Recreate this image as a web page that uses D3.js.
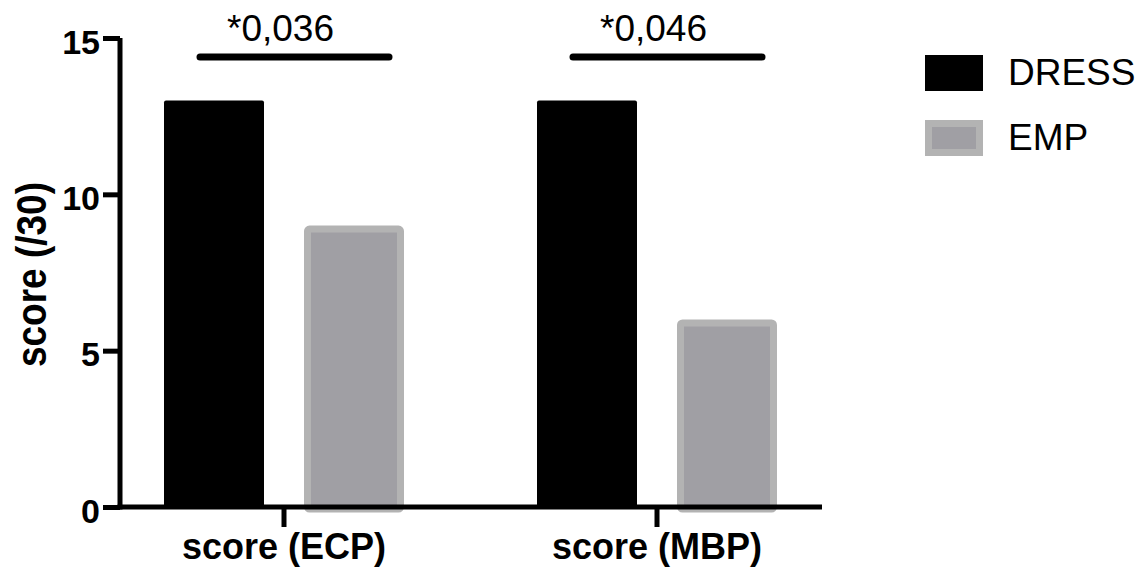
<!DOCTYPE html>
<html>
<head>
<meta charset="utf-8">
<script src="https://cdn.jsdelivr.net/npm/d3@7"></script>
<style>
  html, body { margin: 0; padding: 0; background: #fff; }
  svg { display: block; }
  text { font-family: "Liberation Sans", Arial, Helvetica, sans-serif; }
</style>
</head>
<body>
<script>
// Mean scores (/30) per test, for each patient group
const categories = ["score (ECP)", "score (MBP)"];
const seriesNames = ["DRESS", "EMP"];
const dressValues = [13, 13];
const empValues = [9, 6];
const pValues = ["*0,036", "*0,046"];
const yTicks = [0, 5, 10, 15];

const W = 1148, H = 569;
const svg = d3.select("body").append("svg").attr("width", W).attr("height", H);

const y = d3.scaleLinear().domain([0, 15]).range([507, 38]);
const x0 = d3.scaleBand().domain(categories).range([97.5, 843.5]).padding(0);
const x1 = d3.scaleBand().domain(seriesNames)
  .range([x0.bandwidth() / 2 - 120, x0.bandwidth() / 2 + 120])
  .paddingInner(2 / 7).paddingOuter(0);

const rows = categories.map((c, i) => ({ cat: c, DRESS: dressValues[i], EMP: empValues[i], p: pValues[i] }));

// Bars
const g = svg.append("g");
rows.forEach(r => {
  const cx = x0(r.cat);
  // DRESS: solid black
  g.append("rect")
    .attr("x", cx + x1("DRESS"))
    .attr("y", y(r.DRESS))
    .attr("width", x1.bandwidth())
    .attr("height", y(0) - y(r.DRESS) + 2)
    .attr("rx", 2)
    .attr("fill", "#000");
  // EMP: grey with a lighter border
  const bw = 7;
  g.append("rect")
    .attr("x", cx + x1("EMP") + bw / 2)
    .attr("y", y(r.EMP) + bw / 2)
    .attr("width", x1.bandwidth() - bw)
    .attr("height", y(0) - y(r.EMP) - bw / 2 + 2)
    .attr("rx", 2)
    .attr("fill", "#a09fa4")
    .attr("stroke", "#b3b3b3")
    .attr("stroke-width", bw);
});

// Y axis
const yAxis = d3.axisLeft(y).tickValues(yTicks).tickSize(17).tickPadding(3).tickFormat(d3.format("d"));
const ya = svg.append("g").attr("transform", "translate(120,0)").call(yAxis);
ya.select(".domain").attr("d", `M0,${y(15)}V${y(0) + 2.5}`).attr("stroke", "#000").attr("stroke-width", 5);
ya.selectAll(".tick line").attr("stroke", "#000").attr("stroke-width", 5);
ya.selectAll(".tick text")
  .attr("font-size", 34).attr("font-weight", "bold").attr("fill", "#000")
  .attr("dy", null).attr("y", 15).attr("x", -20);

// X axis
const xAxis = d3.axisBottom(x0).tickSize(20).tickPadding(0).tickFormat(() => "");
const xa = svg.append("g").attr("transform", `translate(0,${y(0)})`).call(xAxis);
xa.select(".domain").attr("d", "M117.5,0H822").attr("stroke", "#000").attr("stroke-width", 5);
xa.selectAll(".tick line").attr("stroke", "#000").attr("stroke-width", 5).attr("y1", 0);
xa.selectAll(".tick")
  .append("text")
  .attr("y", 52)
  .attr("text-anchor", "middle")
  .attr("font-size", 36)
  .attr("font-weight", "bold")
  .attr("fill", "#000")
  .text(d => d);

// Y axis title
svg.append("text")
  .attr("transform", `translate(46,${(y(0) + y(15)) / 2 + 2}) rotate(-90) scale(1,1.15)`)
  .attr("text-anchor", "middle")
  .attr("font-size", 37)
  .attr("font-weight", "bold")
  .attr("fill", "#000")
  .text("score (/30)");

// Significance brackets
rows.forEach(r => {
  const cx = x0(r.cat);
  const xs = cx + x1("DRESS") + 36;
  const xe = cx + x1("EMP") + x1.bandwidth() - 15;
  svg.append("line")
    .attr("x1", xs).attr("x2", xe)
    .attr("y1", 57).attr("y2", 57)
    .attr("stroke", "#000").attr("stroke-width", 7).attr("stroke-linecap", "round");
  svg.append("text")
    .attr("x", (xs + xe) / 2 - 14)
    .attr("y", 41)
    .attr("text-anchor", "middle")
    .attr("font-size", 37)
    .attr("fill", "#000")
    .text(r.p);
});

// Legend
const legend = svg.append("g").attr("transform", "translate(925,55)");
seriesNames.forEach((s, i) => {
  const gy = i * 65;
  if (s === "DRESS") {
    legend.append("rect").attr("x", 0).attr("y", gy).attr("width", 58).attr("height", 36).attr("fill", "#000");
  } else {
    legend.append("rect").attr("x", 3.5).attr("y", gy + 3.5).attr("width", 51).attr("height", 29)
      .attr("fill", "#a09fa4").attr("stroke", "#b3b3b3").attr("stroke-width", 7);
  }
  legend.append("text")
    .attr("x", 83).attr("y", gy + 30)
    .attr("font-size", 37).attr("fill", "#000")
    .text(s);
});
</script>
</body>
</html>
